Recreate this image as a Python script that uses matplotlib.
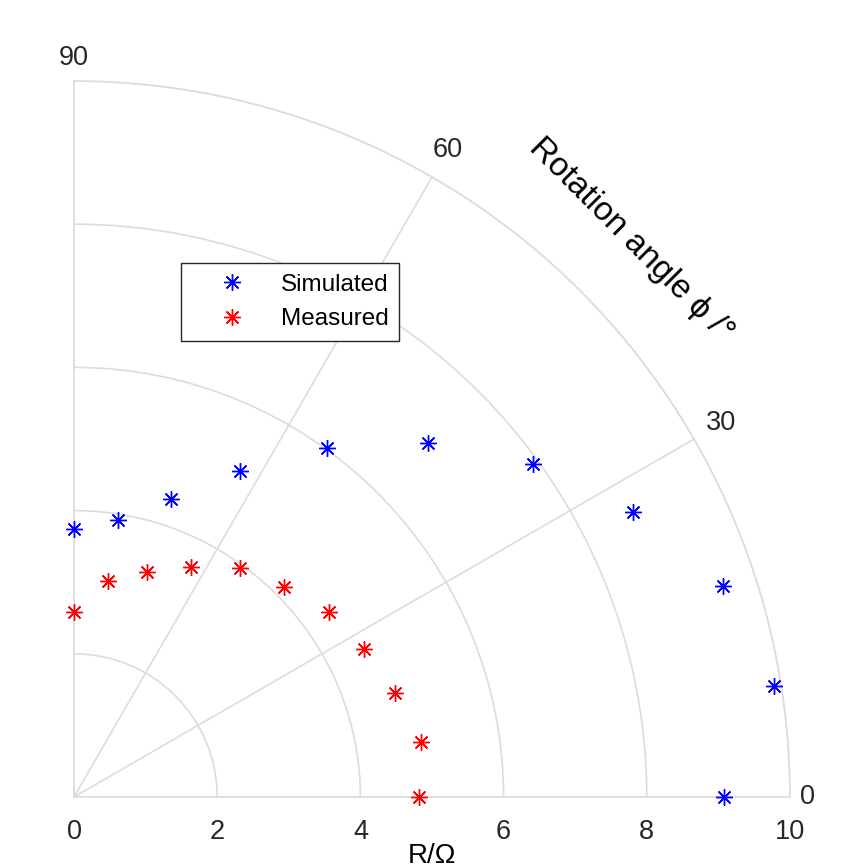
import numpy as np
import matplotlib
matplotlib.use("Agg")
import matplotlib.pyplot as plt

plt.rcParams['font.family'] = ['Liberation Sans', 'DejaVu Sans']

# ---- data ----
angle_deg = [0, 9, 18, 27, 36, 45, 54, 63, 72, 81, 90]
simulated = [9.08, 9.90, 9.53, 8.76, 7.92, 6.99, 6.02, 5.11, 4.38, 3.91, 3.74]
measured  = [4.82, 4.90, 4.72, 4.55, 4.40, 4.15, 3.95, 3.60, 3.31, 3.06, 2.59]
r_ticks     = [0, 2, 4, 6, 8, 10]
theta_ticks = [0, 30, 60, 90]

GRID = '#dcdcdc'
TXT  = '#262626'

fig = plt.figure(figsize=(8.6, 8.64), dpi=100)
ax = fig.add_axes([74/860, 67/864, 716/860, 716/864], projection='polar')
ax.set_thetamin(0)
ax.set_thetamax(90)
ax.set_rlim(0, 10)

theta = np.deg2rad(angle_deg)
ast = (8, 2, 0)  # 8-spoke asterisk like matlab '*'
ax.plot(theta, simulated, linestyle='none', marker=ast, ms=12, mew=1.0,
        color='#0000ff', label='Simulated', clip_on=False, zorder=5)
ax.plot(theta, measured, linestyle='none', marker=ast, ms=12, mew=1.0,
        color='#ff0000', label='Measured', clip_on=False, zorder=5)

ax.set_rticks(r_ticks)
ax.set_thetagrids(theta_ticks, [''] * len(theta_ticks))
ax.grid(True, color=GRID, linewidth=1.2)
for sp in ax.spines.values():
    sp.set_color(GRID)
    sp.set_linewidth(1.2)
ax.tick_params(axis='y', labelsize=19.5, labelcolor=TXT, pad=16, length=0)

# angle labels, centred just outside the outer arc (matlab style)
label_r = [10.25, 10.44, 10.44, 10.32]
for t, rr in zip(theta_ticks, label_r):
    ax.text(np.deg2rad(t), rr, str(t), ha='center', va='center',
            fontsize=19.5, color=TXT, clip_on=False)

# theta axis label along the arc
ax.text(np.deg2rad(45), 11.0, 'Rotation angle ϕ /°', rotation=-45,
        ha='center', va='center', fontsize=24, color='black')
fig.text(432/860, 1 - 843/864, 'R/Ω', ha='center', va='top',
         fontsize=20, color='black')

leg = ax.legend(loc='upper left', bbox_to_anchor=(181/860, 1 - 263/864),
                bbox_transform=fig.transFigure, borderaxespad=0,
                fancybox=False, framealpha=1, edgecolor=TXT,
                fontsize=17.5, handlelength=3.3, handletextpad=0.35,
                borderpad=0.45, labelspacing=0.5)
leg.get_frame().set_linewidth(1.0)

plt.savefig('out.png', dpi=100)
